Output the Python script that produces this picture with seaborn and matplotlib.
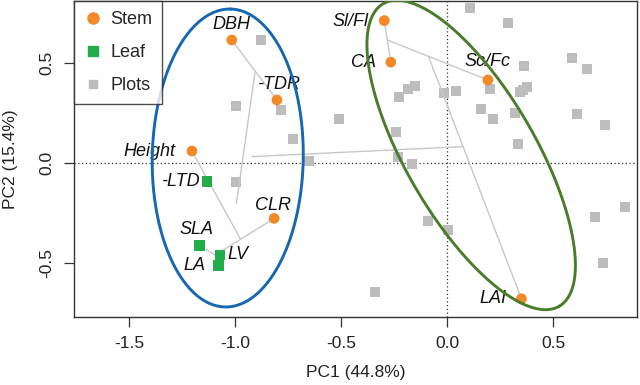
import numpy as np
import pandas as pd
import matplotlib
matplotlib.use("Agg")
import matplotlib.pyplot as plt
import seaborn as sns
from matplotlib.lines import Line2D

# trait loadings on PC1 / PC2
trait_names = ["DBH", "-TDR", "Height", "CLR", "Sl/Fl", "CA", "Sc/Fc", "LAI",
               "-LTD", "SLA", "LV", "LA"]
trait_group = ["Stem"] * 8 + ["Leaf"] * 4
trait_pc1 = [-1.016, -0.803, -1.204, -0.816, -0.297, -0.266, 0.192, 0.350,
             -1.133, -1.168, -1.071, -1.079]
trait_pc2 = [0.615, 0.315, 0.060, -0.277, 0.712, 0.504, 0.415, -0.679,
             -0.094, -0.414, -0.460, -0.514]

# plot scores
plot_pc1 = [-0.876, -0.997, -0.783, -0.725, -0.653, -0.997, 0.106, 0.286, 0.360,
            0.588, 0.657, -0.154, -0.186, -0.226, -0.017, 0.041, 0.203, 0.342,
            0.356, 0.376, -0.508, 0.160, 0.215, 0.321, 0.613, 0.745, -0.240,
            0.333, -0.233, -0.167, -0.090, 0.006, -0.340, 0.695, 0.838, 0.737]
plot_pc2 = [0.615, 0.285, 0.265, 0.120, 0.010, -0.093, 0.773, 0.702, 0.485,
            0.524, 0.468, 0.385, 0.370, 0.332, 0.349, 0.362, 0.368, 0.355,
            0.365, 0.379, 0.220, 0.268, 0.218, 0.248, 0.243, 0.190, 0.154,
            0.095, 0.032, -0.005, -0.289, -0.335, -0.643, -0.272, -0.219, -0.502]

# junctions of the trait tree
node_names = ["n1", "n2", "n3", "n4", "n5", "n6", "n7", "n8"]
node_pc1 = [-0.906, -0.994, -0.976, -1.094, -0.921, -0.282, -0.088, 0.077]
node_pc2 = [0.457, -0.202, -0.378, -0.460, 0.032, 0.615, 0.532, 0.082]
tree_edges = [("DBH", "-TDR"), ("n1", "n2"), ("Height", "n3"), ("CLR", "n4"),
              ("SLA", "n4"), ("LA", "n4"), ("Sl/Fl", "CA"), ("n6", "Sc/Fc"),
              ("n7", "LAI"), ("n5", "n8")]

traits = pd.DataFrame({"name": trait_names, "group": trait_group,
                       "PC1": trait_pc1, "PC2": trait_pc2})
plots = pd.DataFrame({"PC1": plot_pc1, "PC2": plot_pc2})
coords = {n: (x, y) for n, x, y in zip(trait_names, trait_pc1, trait_pc2)}
coords.update({n: (x, y) for n, x, y in zip(node_names, node_pc1, node_pc2)})

# label placement: offset in points, horizontal alignment
label_pos = {
    "DBH": (0, 11, "center"), "-TDR": (1, 11.5, "center"),
    "Height": (-11.5, 0, "right"), "CLR": (-1, 9.5, "center"),
    "Sl/Fl": (-11.5, -1, "right"), "CA": (-11, 0, "right"),
    "Sc/Fc": (0, 13.5, "center"), "LAI": (-10.5, 0, "right"),
    "-LTD": (-5, 0, "right"), "SLA": (-2, 12, "center"),
    "LV": (5.5, 0.5, "left"), "LA": (-9.5, 0, "right"),
}

orange = "#F28A2A"
green = "#20AD4A"
grey = "#BDBDBD"

sns.set_style("ticks")
plt.rcParams["font.family"] = ["Liberation Sans", "DejaVu Sans"]

fig = plt.figure(figsize=(6.4, 3.85), dpi=100)
ax = fig.add_axes([74 / 640, 1 - 317 / 385, 563 / 640, 316 / 385])
ax.set_xlim(-1.76, 0.895)
ax.set_ylim(-0.77, 0.81)

ax.axvline(0, color="#333333", lw=0.9, ls=(0, (1, 2)), zorder=1)
ax.axhline(0, color="#333333", lw=0.9, ls=(0, (1, 2)), zorder=1)

sns.scatterplot(data=plots, x="PC1", y="PC2", marker="s", s=58, color=grey,
                linewidth=0, ax=ax, zorder=2, legend=False)

for a, b in tree_edges:
    ax.plot([coords[a][0], coords[b][0]], [coords[a][1], coords[b][1]],
            color="#C8C8C8", lw=1.0, zorder=2.5)

sns.scatterplot(data=traits, x="PC1", y="PC2", hue="group", style="group",
                palette={"Stem": orange, "Leaf": green},
                markers={"Stem": "o", "Leaf": "s"}, s=60, linewidth=0,
                ax=ax, zorder=3, legend=False)

for n, x, y in zip(trait_names, trait_pc1, trait_pc2):
    dx, dy, ha = label_pos[n]
    ax.annotate(n, (x, y), xytext=(dx, dy), textcoords="offset points",
                ha=ha, va="center", fontsize=13, style="italic", color="#111111")


def ellipse_xy(cx, cy, a_px, b_px, angle_deg):
    t = np.linspace(0, 2 * np.pi, 400)
    ang = np.deg2rad(angle_deg)
    ux, uy = a_px * np.cos(t), b_px * np.sin(t)
    dx = ux * np.cos(ang) - uy * np.sin(ang)
    dy = ux * np.sin(ang) + uy * np.cos(ang)
    c = ax.transData.transform((cx, cy))
    pts = np.column_stack([c[0] + dx, c[1] + dy])
    return ax.transData.inverted().transform(pts)


blue_ell = ellipse_xy(-1.035, 0.025, 149, 75.5, 89)
green_ell = ellipse_xy(0.113, 0.04, 175, 64.6, -59.8)
ax.plot(blue_ell[:, 0], blue_ell[:, 1], color="#1767B3", lw=2.1, zorder=4)
ax.plot(green_ell[:, 0], green_ell[:, 1], color="#4A7D2B", lw=2.1, zorder=4)

ax.set_xticks([-1.5, -1.0, -0.5, 0.0, 0.5])
ax.set_yticks([-0.5, 0.0, 0.5])
ax.set_xticklabels(["-1.5", "-1.0", "-0.5", "0.0", "0.5"])
ax.set_yticklabels(["-0.5", "0.0", "0.5"])
ax.tick_params(length=7, width=0.9, color="#333333", labelsize=12.5,
               labelcolor="#222222", pad=7)
plt.setp(ax.get_yticklabels(), rotation=90, va="center")
for sp in ax.spines.values():
    sp.set_color("#333333")
    sp.set_linewidth(1.0)

ax.set_xlabel("PC1 (44.8%)", fontsize=12.5, color="#222222")
ax.set_ylabel("PC2 (15.4%)", fontsize=12.5, color="#222222")
ax.xaxis.set_label_coords(0.5, -0.152)
ax.yaxis.set_label_coords(-0.1, 0.5)

handles = [
    Line2D([], [], marker="o", ls="", color=orange, markersize=8),
    Line2D([], [], marker="s", ls="", color=green, markersize=7),
    Line2D([], [], marker="s", ls="", color=grey, markersize=6),
]
leg = ax.legend(handles, ["Stem", "Leaf", "Plots"], loc="upper left",
                bbox_to_anchor=(0, 1), borderaxespad=0, fontsize=13,
                frameon=True, fancybox=False, handlelength=1.0,
                handletextpad=0.45, labelspacing=0.9, borderpad=0.55)
leg.get_frame().set_edgecolor("#222222")
leg.get_frame().set_linewidth(1.0)
leg.set_zorder(5)

fig.savefig("out.png", dpi=100)
